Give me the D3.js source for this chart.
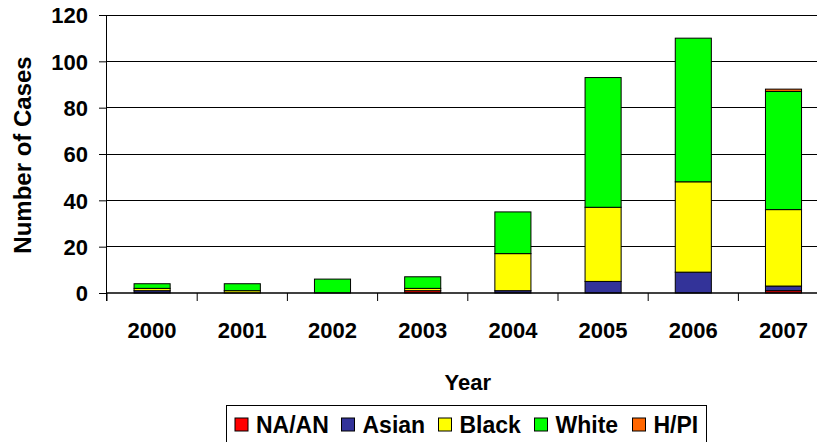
<!DOCTYPE html>
<html>
<head>
<meta charset="utf-8">
<script src="https://cdn.jsdelivr.net/npm/d3@7"></script>
<style>
  html, body { margin: 0; padding: 0; background: #fff; }
  svg { display: block; }
  text { font-family: Arial, "Liberation Sans", sans-serif; font-weight: bold; fill: #000; }
</style>
</head>
<body>
<svg id="chart" width="817" height="442"></svg>
<script>
// Case counts per year, split by race group
const years = ["2000", "2001", "2002", "2003", "2004", "2005", "2006", "2007"];
const groups = ["NA/AN", "Asian", "Black", "White", "H/PI"];
const naan  = [0, 0, 0, 1, 0, 0, 0, 1];
const asian = [1, 0, 0, 0, 1, 5, 9, 2];
const black = [1, 1, 0, 1, 16, 32, 39, 33];
const white = [2, 3, 6, 5, 18, 56, 62, 51];
const hpi   = [0, 0, 0, 0, 0, 0, 0, 1];
const yTicks = [0, 20, 40, 60, 80, 100, 120];
const colors = ["#FF0000", "#333399", "#FFFF00", "#00FF00", "#FF6600"];

const seriesValues = [naan, asian, black, white, hpi];
const rows = years.map((y, i) => {
  const r = { year: y };
  groups.forEach((g, k) => { r[g] = seriesValues[k][i]; });
  return r;
});
const stacked = d3.stack().keys(groups)(rows);

const svg = d3.select("#chart");
const x0 = 107, x1 = 828.6, yTop = 15, yBase = 293;

const x = d3.scaleBand().domain(years).range([x0, x1]).paddingInner(0.6).paddingOuter(0.3);
const y = d3.scaleLinear().domain([0, 120]).range([yBase, yTop]);
const color = d3.scaleOrdinal().domain(groups).range(colors);

// horizontal gridlines
svg.append("g").selectAll("line")
  .data(yTicks.filter(t => t > 0))
  .join("line")
  .attr("x1", x0).attr("x2", 817)
  .attr("y1", d => y(d)).attr("y2", d => y(d))
  .attr("stroke", "#000").attr("stroke-width", 1)
  .attr("shape-rendering", "crispEdges");

// stacked bars
svg.append("g").selectAll("g")
  .data(stacked)
  .join("g")
  .attr("fill", d => color(d.key))
  .selectAll("rect")
  .data(d => d.filter(s => s[1] - s[0] > 0))
  .join("rect")
  .attr("x", d => x(d.data.year))
  .attr("width", x.bandwidth())
  .attr("y", d => y(d[1]))
  .attr("height", d => y(d[0]) - y(d[1]))
  .attr("stroke", "#000").attr("stroke-width", 1);

// y axis
const yAxis = svg.append("g")
  .attr("transform", `translate(${x0},0)`)
  .call(d3.axisLeft(y).tickValues(yTicks).tickSize(8).tickPadding(11));
yAxis.select(".domain").attr("stroke", "#000").attr("d", `M-0.5,${yTop}V${yBase + 8}`);
yAxis.selectAll(".tick line").attr("stroke", "#000");
yAxis.selectAll(".tick text")
  .style("font-size", "22px")
  .style("font-family", "Arial, 'Liberation Sans', sans-serif")
  .style("font-weight", "bold")
  .attr("dy", "0.36em");

// x axis with tick marks on category boundaries
const xAxis = svg.append("g").attr("transform", `translate(0,${yBase})`);
xAxis.append("line").attr("x1", x0).attr("x2", 817).attr("y1", 0).attr("y2", 0)
  .attr("stroke", "#000").attr("stroke-width", 1.5);
const step = x.step();
xAxis.selectAll("line.tk")
  .data(d3.range(years.length + 1))
  .join("line").attr("class", "tk")
  .attr("x1", i => x0 + i * step).attr("x2", i => x0 + i * step)
  .attr("y1", 0).attr("y2", 8)
  .attr("stroke", "#000").attr("stroke-width", 1);
xAxis.selectAll("text")
  .data(years)
  .join("text")
  .attr("x", d => x(d) + x.bandwidth() / 2)
  .attr("y", 45)
  .attr("text-anchor", "middle")
  .style("font-size", "22px")
  .text(d => d);

// axis titles
svg.append("text")
  .attr("x", (x0 + x1) / 2).attr("y", 390)
  .attr("text-anchor", "middle")
  .style("font-size", "22px")
  .text("Year");
svg.append("text")
  .attr("transform", "translate(31,155) rotate(-90)")
  .attr("text-anchor", "middle")
  .style("font-size", "24px")
  .text("Number of Cases");

// legend
const legend = svg.append("g");
legend.append("rect")
  .attr("x", 226.5).attr("y", 405.5).attr("width", 480).attr("height", 40)
  .attr("fill", "#fff").attr("stroke", "#000").attr("stroke-width", 1);
const legendX = [235, 341.5, 438.5, 534.5, 632.5];
const item = legend.selectAll("g.item")
  .data(groups)
  .join("g").attr("class", "item")
  .attr("transform", (d, i) => `translate(${legendX[i]},0)`);
item.append("rect")
  .attr("x", 0).attr("y", 418).attr("width", 13).attr("height", 13)
  .attr("fill", d => color(d)).attr("stroke", "#000").attr("stroke-width", 1);
item.append("text")
  .attr("x", 21).attr("y", 432.5)
  .style("font-size", "23px")
  .text(d => d);
</script>
</body>
</html>
